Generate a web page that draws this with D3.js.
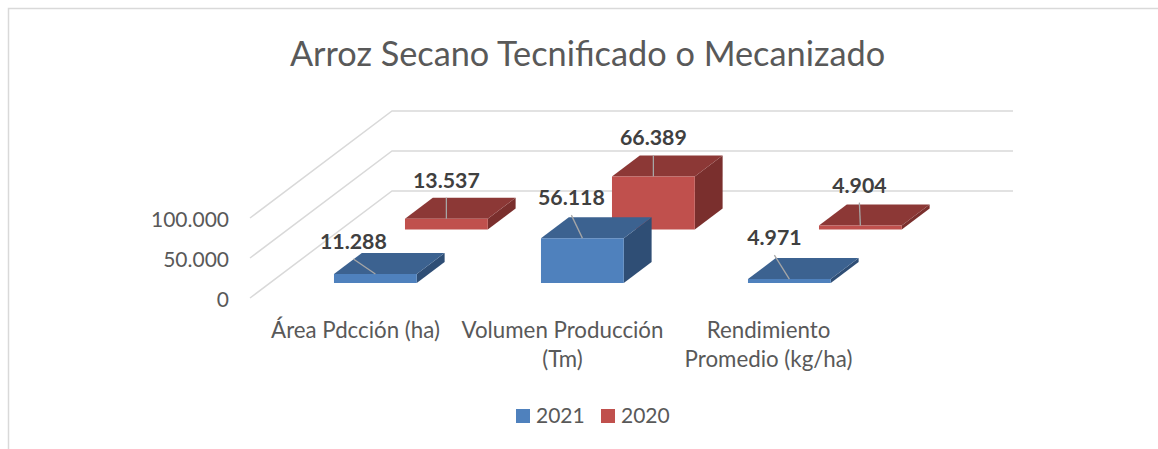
<!DOCTYPE html>
<html><head><meta charset="utf-8">
<script src="https://cdn.jsdelivr.net/npm/d3@7/dist/d3.min.js"></script>
<style>html,body{margin:0;padding:0;background:#fff;overflow:hidden}svg{display:block}text{font-family:Lato,"Noto Sans",sans-serif}</style>
</head><body><svg id="c" width="1158" height="449"></svg>
<script>
const titleText = "Arroz Secano Tecnificado o Mecanizado";
const categories = ["Área Pdcción (ha)", "Volumen Producción (Tm)", "Rendimiento Promedio (kg/ha)"];
const categoryLines = [["Área Pdcción (ha)"], ["Volumen Producción", "(Tm)"], ["Rendimiento", "Promedio (kg/ha)"]];
const seriesNames = ["2021", "2020"];
const values2021 = [11288, 56118, 4971];
const values2020 = [13537, 66389, 4904];
const tickValues = [0, 50000, 100000];
const gridValues = [0, 50000, 100000];

const svg = d3.select("#c");
const W = 1158;
const fmt = d3.format(",d");
const dot = v => fmt(v).replace(/,/g, ".");

const depthVec = {dx: 142, dy: -107};
const x = d3.scaleBand().domain(categories).range([252, 873]).paddingInner(0.6).paddingOuter(0.3);
const y = d3.scaleLinear().domain([0, 100000]).range([298, 218]);
const z = d3.scalePoint().domain(seriesNames).range([0.14, 0.64]);
const barDepth = 0.196;
const project = (px, val, d) => [px + d * depthVec.dx, y(val) + d * depthVec.dy];

const palette = {
  "2021": {front: "#4f81bd", top: "#3c6290", side: "#2f4e75"},
  "2020": {front: "#c0504d", top: "#8c3836", side: "#7a2f2d"}
};
// leader-line end, relative to the mid point of the top front edge
const leaderOffsets = {
  "2021": [[-22, -15], [-11, -23], [-15, -24]],
  "2020": [[0, -21], [0, -21], [-1, -23]]
};

// frame
svg.append("path").attr("d", `M8.5,449V8.5H${W}`).attr("fill", "none").attr("stroke", "#d9d9d9").attr("stroke-width", 1.5);

// title
svg.append("text").attr("x", 587.5).attr("y", 66).attr("text-anchor", "middle")
  .attr("font-size", 34.3).attr("fill", "#595959").text(titleText);

// walls grid
const xLeft = 250, xRight = 871;
gridValues.forEach(v => {
  const a = [xLeft, y(v)], b = project(xLeft, v, 1), c = project(xRight, v, 1);
  svg.append("path").attr("d", d3.line()([a, b, c])).attr("fill", "none")
    .attr("stroke", "#d9d9d9").attr("stroke-width", 1.5);
});

// y axis
const yAxis = d3.axisLeft(y).tickValues(tickValues).tickSize(0).tickPadding(0).tickFormat(dot);
const gy = svg.append("g").attr("transform", "translate(229,2)").call(yAxis);
gy.select(".domain").remove();
gy.selectAll("text").attr("font-size", 21).attr("fill", "#595959").style("font-family", "Lato");

// bars, back to front
const dataBySeries = {"2021": values2021, "2020": values2020};
const labels = [];
[...seriesNames].reverse().forEach(s => {
  const pal = palette[s];
  categories.forEach((cat, i) => {
    const v = dataBySeries[s][i];
    const x0 = x(cat), x1 = x0 + x.bandwidth();
    const d0 = z(s), d1 = d0 + barDepth;
    const g = svg.append("g");
    const poly = (pts, fill) => g.append("polygon").attr("points", pts.map(p => p.join(",")).join(" ")).attr("fill", fill);
    poly([project(x1, 0, d0), project(x1, 0, d1), project(x1, v, d1), project(x1, v, d0)], pal.side);
    poly([project(x0, v, d0), project(x1, v, d0), project(x1, v, d1), project(x0, v, d1)], pal.top);
    poly([project(x0, 0, d0), project(x1, 0, d0), project(x1, v, d0), project(x0, v, d0)], pal.front);
    const m = project((x0 + x1) / 2, v, d0);
    const off = leaderOffsets[s][i];
    labels.push({start: m, end: [m[0] + off[0], m[1] + off[1]], text: dot(v)});
  });
});
labels.forEach(l => {
  svg.append("line").attr("x1", l.start[0]).attr("y1", l.start[1]).attr("x2", l.end[0]).attr("y2", l.end[1])
    .attr("stroke", "#a6a6a6").attr("stroke-width", 1.3);
  svg.append("text").attr("x", l.end[0]).attr("y", l.end[1] - 10).attr("text-anchor", "middle")
    .attr("font-size", 21.3).attr("font-weight", 700).attr("fill", "#404040").text(l.text);
});

// category labels
categories.forEach((cat, i) => {
  const t = svg.append("text").attr("text-anchor", "middle").attr("font-size", 22.3).attr("fill", "#595959");
  const cx = x(cat) + x.bandwidth() / 2 + [0, 0, -1][i];
  categoryLines[i].forEach((ln, j) => t.append("tspan").attr("x", cx).attr("y", 338 + j * 29).text(ln));
});

// legend
const legendX = d3.scaleOrdinal().domain(seriesNames).range([516, 601]);
seriesNames.forEach(s => {
  svg.append("rect").attr("x", legendX(s)).attr("y", 409).attr("width", 14).attr("height", 14).attr("fill", palette[s].front);
  svg.append("text").attr("x", legendX(s) + 20).attr("y", 423).attr("font-size", 21).attr("fill", "#595959").text(s);
});
</script></body></html>
